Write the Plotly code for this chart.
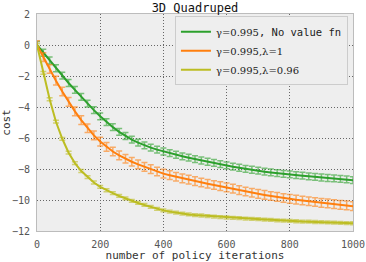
import plotly.graph_objects as go

iters = list(range(0, 1001, 20))

cost_no_vf = [0, -0.5, -1.0, -1.5, -1.98, -2.45, -2.9, -3.35, -3.78, -4.2, -4.6,
              -4.97, -5.3, -5.6, -5.87, -6.1, -6.3, -6.47, -6.62, -6.75, -6.87,
              -6.98, -7.08, -7.18, -7.27, -7.36, -7.45, -7.53, -7.61, -7.69, -7.77,
              -7.85, -7.92, -7.99, -8.05, -8.11, -8.17, -8.22, -8.27, -8.31, -8.35,
              -8.39, -8.43, -8.47, -8.51, -8.55, -8.58, -8.61, -8.64, -8.67, -8.72]

cost_lam1 = [0, -0.78, -1.55, -2.3, -3.0, -3.67, -4.28, -4.85, -5.37, -5.83, -6.23,
             -6.57, -6.87, -7.12, -7.34, -7.53, -7.7, -7.86, -8.01, -8.16, -8.3,
             -8.4, -8.5, -8.6, -8.69, -8.78, -8.87, -8.95, -9.03, -9.1, -9.18,
             -9.27, -9.36, -9.45, -9.53, -9.6, -9.67, -9.74, -9.8, -9.87, -9.93,
             -9.98, -10.03, -10.08, -10.13, -10.18, -10.22, -10.27, -10.31, -10.35, -10.4]

cost_lam096 = [0, -1.8, -3.5, -4.95, -6.05, -6.95, -7.62, -8.13, -8.53, -8.87, -9.15,
               -9.37, -9.56, -9.74, -9.9, -10.05, -10.19, -10.32, -10.45, -10.57, -10.67,
               -10.75, -10.82, -10.88, -10.93, -10.97, -11.0, -11.04, -11.07, -11.1, -11.13,
               -11.15, -11.17, -11.2, -11.22, -11.24, -11.26, -11.28, -11.31, -11.33, -11.35,
               -11.37, -11.39, -11.4, -11.42, -11.43, -11.45, -11.46, -11.47, -11.49, -11.5]

err_no_vf = 0.22
err_lam1 = 0.28
err_lam096 = 0.09

x_ticks = [0, 200, 400, 600, 800, 1000]
y_ticks = [2, 0, -2, -4, -6, -8, -10, -12]
y_tick_text = ["2", "0", "\u22122", "\u22124", "\u22126", "\u22128", "\u221210", "\u221212"]

MONO = "DejaVu Sans Mono"
SERIF = "DejaVu Serif"

def label(math, rest=""):
    return f'<span style="font-family:{SERIF};font-size:10px">{math}</span>{rest}'

series = [
    (cost_no_vf, err_no_vf, "#2ca02c", "rgba(44,160,44,0.6)",
     label("\u03b3=0.995", ", No value fn")),
    (cost_lam1, err_lam1, "#ff7f0e", "rgba(255,127,14,0.6)",
     label("\u03b3=0.995,\u03bb=1")),
    (cost_lam096, err_lam096, "#bcbd22", "rgba(188,189,34,0.6)",
     label("\u03b3=0.995,\u03bb=0.96")),
]

fig = go.Figure()
for vals, err, col, ecol, name in series:
    fig.add_trace(go.Scatter(
        x=iters, y=vals, mode="lines", name=name,
        line=dict(color=col, width=2),
        error_y=dict(type="data", array=[err] * len(vals), color=ecol,
                     thickness=1.5, width=3),
    ))

axis_common = dict(
    showline=True, mirror=True, linecolor="#bcbcbc", linewidth=1,
    showgrid=True, gridcolor="#666666", griddash="1px,2px", gridwidth=1,
    zeroline=False, ticks="", automargin=False, ticklabelstandoff=4,
    tickfont=dict(family=MONO, size=10, color="#555555"),
)

fig.update_layout(
    width=366, height=262,
    margin=dict(l=37, r=13, t=14, b=31),
    paper_bgcolor="white", plot_bgcolor="#eeeeee",
    title=dict(text="3D Quadruped", x=0.5, xref="paper", xanchor="center",
               y=1 - 7.5 / 262, yref="container", yanchor="middle",
               font=dict(family=MONO, size=12, color="#111111")),
    xaxis=dict(range=[0, 1000], tickvals=x_ticks,
               title=dict(text="number of policy iterations", standoff=2,
                          font=dict(family=MONO, size=11, color="#333333")),
               **axis_common),
    yaxis=dict(range=[-12, 2], tickvals=y_ticks, ticktext=y_tick_text,
               title=dict(text="cost", standoff=2,
                          font=dict(family=MONO, size=11, color="#333333")),
               **axis_common),
    legend=dict(x=0.984, xanchor="right", y=0.99, yanchor="top",
                bgcolor="#eeeeee", bordercolor="#cccccc", borderwidth=1,
                font=dict(family=MONO, size=10.5, color="#222222"),
                tracegroupgap=0, itemwidth=30),
    showlegend=True,
)

fig.write_html("out.html", config={"displayModeBar": False},
               post_script="document.body.style.margin='0';")
